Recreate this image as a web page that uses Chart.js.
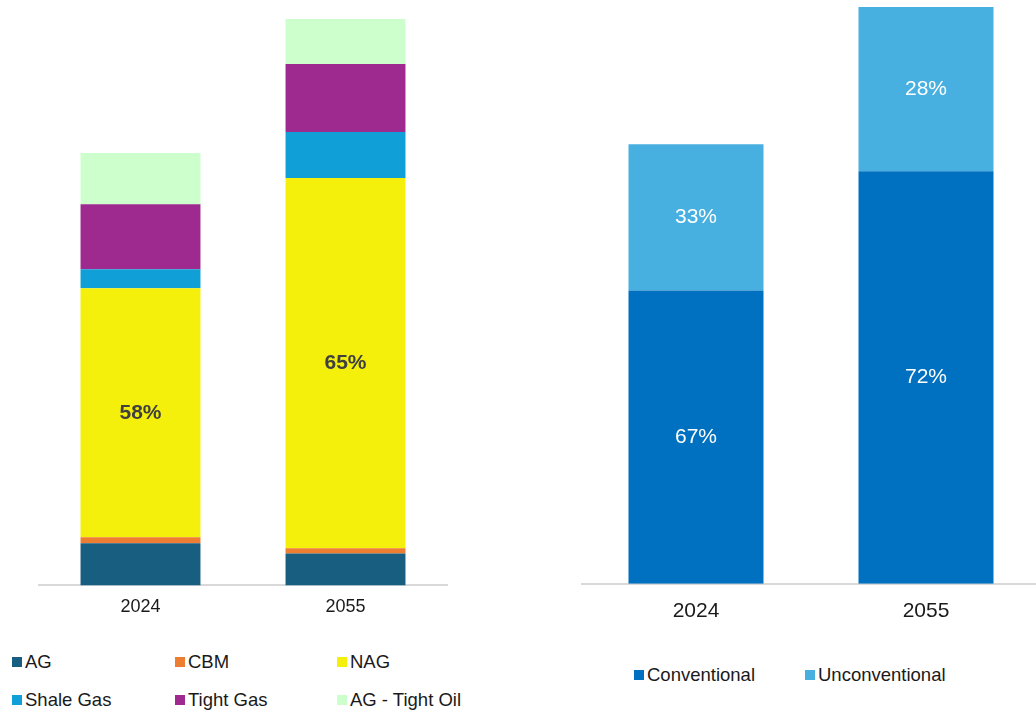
<!DOCTYPE html>
<html>
<head>
<meta charset="utf-8">
<script src="https://cdn.jsdelivr.net/npm/chart.js@4/dist/chart.umd.min.js"></script>
<style>
  body { margin: 0; width: 1036px; height: 710px; overflow: hidden; background: #fff; font-family: "Liberation Sans", Arial, sans-serif; }
  canvas { position: absolute; }
  .leg { position: absolute; font-size: 18.5px; color: #1a1a1a; white-space: nowrap; line-height: 20px; }
  .leg span { display: inline-block; width: 10px; height: 10px; margin-right: 3px; vertical-align: 1px; }
</style>
</head>
<body>
<canvas id="leftChart" width="410" height="629" style="left:38px;top:0"></canvas>
<canvas id="rightChart" width="460" height="639" style="left:581px;top:0"></canvas>
<div id="legends"></div>
<script>
// left chart: gas supply by type (stack heights)
const years = ["2024", "2055"];
const agValues = [42, 32];
const cbmValues = [6, 5];
const nagValues = [249, 370];
const shaleValues = [19, 46];
const tightGasValues = [65, 68];
const tightOilValues = [51, 45];

// right chart: conventional vs unconventional
const conventionalValues = [293, 412];
const unconventionalValues = [146, 164];

const leftNames = ["AG", "CBM", "NAG", "Shale Gas", "Tight Gas", "AG - Tight Oil"];
const leftColors = ["#175e80", "#ed7d31", "#f4f00b", "#109fd7", "#9e2a8f", "#ccffcc"];
const rightNames = ["Conventional", "Unconventional"];
const rightColors = ["#0070c0", "#47b0e0"];

// draws percent of stack inside chosen datasets
const pctLabels = {
  id: "pctLabels",
  afterDatasetsDraw(chart, args, opts) {
    const ctx = chart.ctx;
    const ds = chart.data.datasets;
    ctx.save();
    ctx.textAlign = "center";
    ctx.textBaseline = "middle";
    ctx.font = opts.font;
    ctx.fillStyle = opts.color;
    opts.which.forEach(function (di) {
      const meta = chart.getDatasetMeta(di);
      meta.data.forEach(function (bar, i) {
        let total = 0;
        ds.forEach(function (d) { total += d.data[i]; });
        const pct = Math.round(ds[di].data[i] / total * 100);
        ctx.fillText(pct + "%", bar.x, (bar.y + bar.base) / 2);
      });
    });
    ctx.restore();
  }
};

function makeChart(id, datasets, max, tickSize, tickPad, labelOpts) {
  return new Chart(document.getElementById(id), {
    type: "bar",
    data: { labels: years, datasets: datasets },
    plugins: [pctLabels],
    options: {
      responsive: false,
      animation: false,
      devicePixelRatio: 1,
      layout: { padding: 0 },
      categoryPercentage: 1,
      plugins: { legend: { display: false }, tooltip: { enabled: false }, pctLabels: labelOpts },
      scales: {
        x: {
          stacked: true,
          grid: { display: false, drawTicks: false },
          border: { color: "#d9d9d9", width: 2 },
          ticks: { color: "#1a1a1a", font: { family: "Liberation Sans", size: tickSize }, padding: tickPad }
        },
        y: { stacked: true, display: false, min: 0, max: max }
      }
    }
  });
}

const leftData = [agValues, cbmValues, nagValues, shaleValues, tightGasValues, tightOilValues];
const leftSets = leftData.map(function (vals, i) {
  return { label: leftNames[i], data: vals, backgroundColor: leftColors[i], barPercentage: 0.585 };
});
makeChart("leftChart", leftSets, 585, 18, 11,
  { which: [2], font: "bold 21px 'Liberation Sans'", color: "#404040" });

const rightData = [conventionalValues, unconventionalValues];
const rightSets = rightData.map(function (vals, i) {
  return { label: rightNames[i], data: vals, backgroundColor: rightColors[i], barPercentage: 0.587 };
});
makeChart("rightChart", rightSets, 583, 21, 15,
  { which: [0, 1], font: "21px 'Liberation Sans'", color: "#ffffff" });

// html legends
const legends = document.getElementById("legends");
function addLegend(name, color, x, y) {
  const d = document.createElement("div");
  d.className = "leg";
  d.style.left = x + "px";
  d.style.top = y + "px";
  d.innerHTML = '<span style="background:' + color + '"></span>' + name;
  legends.appendChild(d);
}
const colX = [12, 175, 337];
leftNames.forEach(function (n, i) {
  addLegend(n, leftColors[i], colX[i % 3], i < 3 ? 652 : 690);
});
addLegend(rightNames[0], rightColors[0], 634, 665);
addLegend(rightNames[1], rightColors[1], 805, 665);
</script>
</body>
</html>
